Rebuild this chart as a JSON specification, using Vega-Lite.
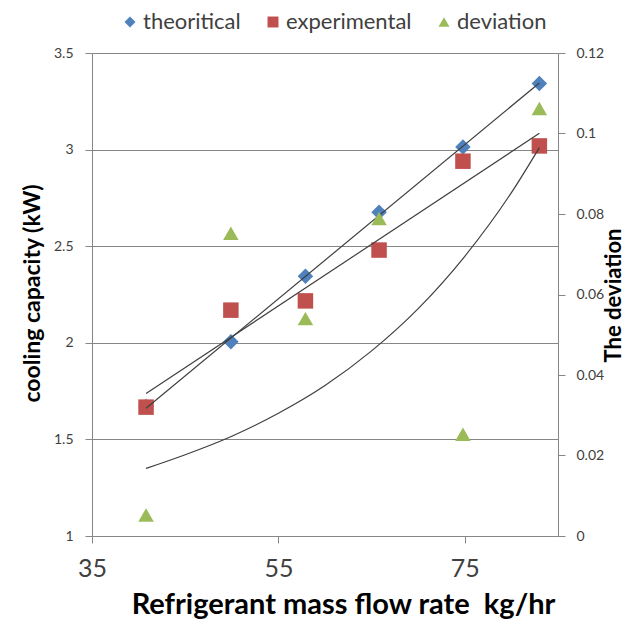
{
  "$schema": "https://vega.github.io/schema/vega-lite/v6.json",
  "width": 466,
  "height": 483,
  "autosize": {"type": "none"},
  "padding": {"left": 92, "top": 53, "right": 82, "bottom": 93},
  "background": "white",
  "config": {
    "font": "Lato",
    "view": {"stroke": null},
    "axis": {
      "domainColor": "#868686",
      "tickColor": "#868686",
      "gridColor": "#868686",
      "labelColor": "#404040",
      "labelFont": "Lato",
      "titleFont": "Lato",
      "titleColor": "#000000",
      "tickSize": 7
    },
    "legend": {
      "labelFont": "Lato",
      "labelFontSize": 22,
      "labelColor": "#404040",
      "symbolSize": 120,
      "symbolStrokeWidth": 0,
      "symbolOpacity": 1,
      "padding": 0
    }
  },
  "datasets": {
    "cap": [
      {"series": "theoritical", "x": 40.8, "value": 1.67},
      {"series": "theoritical", "x": 49.9, "value": 2.005},
      {"series": "theoritical", "x": 57.9, "value": 2.345},
      {"series": "theoritical", "x": 65.8, "value": 2.676},
      {"series": "theoritical", "x": 74.8, "value": 3.014},
      {"series": "theoritical", "x": 83.0, "value": 3.342},
      {"series": "experimental", "x": 40.8, "value": 1.667},
      {"series": "experimental", "x": 49.9, "value": 2.169},
      {"series": "experimental", "x": 57.9, "value": 2.217},
      {"series": "experimental", "x": 65.8, "value": 2.48},
      {"series": "experimental", "x": 74.8, "value": 2.94},
      {"series": "experimental", "x": 83.0, "value": 3.019}
    ],
    "dev": [
      {"series": "deviation", "x": 40.8, "value": 0.0052},
      {"series": "deviation", "x": 49.9, "value": 0.0752},
      {"series": "deviation", "x": 57.9, "value": 0.054},
      {"series": "deviation", "x": 65.8, "value": 0.0789},
      {"series": "deviation", "x": 74.8, "value": 0.0253},
      {"series": "deviation", "x": 83.0, "value": 0.1062}
    ],
    "devtrend": [
      {"x": 40.8, "value": 0.0168},
      {"x": 45, "value": 0.0202},
      {"x": 50, "value": 0.0248},
      {"x": 55, "value": 0.0305},
      {"x": 60, "value": 0.0374},
      {"x": 65, "value": 0.046},
      {"x": 70, "value": 0.0565},
      {"x": 75, "value": 0.0695},
      {"x": 80, "value": 0.0853},
      {"x": 83, "value": 0.0965}
    ]
  },
  "encoding": {
    "x": {
      "field": "x",
      "type": "quantitative",
      "scale": {"domain": [35, 85], "nice": false, "zero": false},
      "axis": {
        "values": [35, 55, 75],
        "grid": false,
        "labelFlush": false,
        "labelFontSize": 25,
        "labelPadding": 13,
        "title": "Refrigerant mass flow rate\u00a0 kg/hr",
        "titleFontSize": 29,
        "titleFontWeight": "bold",
        "titleX": 251,
        "titleY": 68,
        "titleAlign": "center",
        "titleBaseline": "middle"
      }
    }
  },
  "layer": [
    {
      "encoding": {
        "y": {
          "field": "value",
          "type": "quantitative",
          "scale": {"domain": [1, 3.5], "nice": false, "zero": false},
          "axis": {
            "orient": "left",
            "values": [1, 1.5, 2, 2.5, 3, 3.5],
            "format": ".1~f",
            "grid": true,
            "gridWidth": 1,
            "labelFontSize": 14,
            "labelPadding": 12,
            "title": "cooling capacity (kW)",
            "titleFontSize": 23,
            "titleFontWeight": "bold",
            "titleAngle": 270,
            "titleX": -60,
            "titleY": 240,
            "titleAlign": "center",
            "titleBaseline": "middle"
          }
        }
      },
      "layer": [
        {
          "data": {"name": "cap"},
          "mark": {"type": "point", "filled": true, "opacity": 1, "size": 240},
          "encoding": {
            "color": {
              "field": "series",
              "type": "nominal",
              "scale": {"domain": ["theoritical", "experimental", "deviation"], "range": ["#4F81BD", "#C0504D", "#9BBB59"]},
              "legend": {"orient": "none", "direction": "horizontal", "title": null, "legendX": 27, "legendY": -42, "labelOffset": 2, "columnPadding": 21}
            },
            "shape": {
              "field": "series",
              "type": "nominal",
              "scale": {"domain": ["theoritical", "experimental", "deviation"], "range": ["diamond", "square", "triangle-up"]},
              "legend": {"orient": "none", "direction": "horizontal", "title": null, "legendX": 27, "legendY": -42, "labelOffset": 2, "columnPadding": 21}
            }
          }
        },
        {
          "data": {"name": "cap"},
          "transform": [
            {"regression": "value", "on": "x", "groupby": ["series"], "method": "linear", "extent": [40.8, 83]}
          ],
          "mark": {"type": "line", "color": "#3f3f3f", "strokeWidth": 1.2},
          "encoding": {"detail": {"field": "series", "type": "nominal"}}
        }
      ]
    },
    {
      "encoding": {
        "y": {
          "field": "value",
          "type": "quantitative",
          "scale": {"domain": [0, 0.12], "nice": false, "zero": true},
          "axis": {
            "orient": "right",
            "values": [0, 0.02, 0.04, 0.06, 0.08, 0.1, 0.12],
            "format": ".2~f",
            "grid": false,
            "labelFontSize": 14,
            "labelPadding": 11,
            "title": "The deviation",
            "titleFontSize": 22,
            "titleFontWeight": "bold",
            "titleAngle": 270,
            "titleX": 55,
            "titleY": 242,
            "titleAlign": "center",
            "titleBaseline": "middle"
          }
        }
      },
      "layer": [
        {
          "data": {"name": "dev"},
          "mark": {"type": "point", "filled": true, "opacity": 1, "size": 240},
          "encoding": {
            "color": {"field": "series", "type": "nominal"},
            "shape": {"field": "series", "type": "nominal"}
          }
        },
        {
          "data": {"name": "devtrend"},
          "mark": {"type": "line", "color": "#3f3f3f", "strokeWidth": 1.2, "interpolate": "monotone"},
          "encoding": {}
        }
      ]
    }
  ],
  "resolve": {"scale": {"y": "independent"}}
}
